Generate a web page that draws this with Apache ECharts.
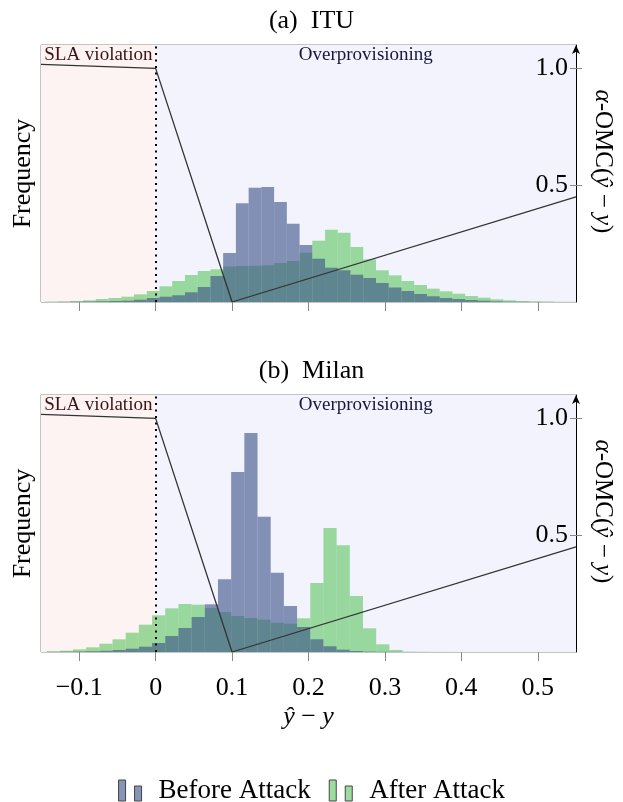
<!DOCTYPE html>
<html><head><meta charset="utf-8">
<script src="https://cdn.jsdelivr.net/npm/echarts@6/dist/echarts.min.js"></script>
<style>html,body{margin:0;padding:0;background:#fff}#c{width:623px;height:802px}</style>
</head><body><div id="c"></div>
<script>
// ---- data ----
const panelTitles = ['(a)\u2002ITU', '(b)\u2002Milan'];
const seriesNames = ['Before Attack', 'After Attack'];
const xTicks = [-0.1, 0, 0.1, 0.2, 0.3, 0.4, 0.5];
const xTickLabels = ['\u22120.1', '0', '0.1', '0.2', '0.3', '0.4', '0.5'];
const omcTicks = [0.5, 1.0];
const omcTickLabels = ['0.5', '1.0'];
const omcX = [-0.15, 0, 0.1, 0.55];
const omcY = [1.017, 1.0, 0.0, 0.45];
const regionEdges = [-0.15, 0, 0.55];
const regionLabels = ['SLA violation', 'Overprovisioning'];

const ituBinStart = -0.145, ituBinWidth = 1 / 60;
const ituBefore = [0.1,0.2,0.3,0.5,0.7,1,1.3,2.3,4,5.3,6.7,9.7,15,26,49,98.7,114.3,115,100,78.3,57,43.3,34.3,31.7,27.3,24,19,14.5,11,8,5.7,4,3,2,1.3,0.7,0.3,0.2,0.1,0.1,0,0];
const ituAfter  = [0.3,0.5,1,1.7,3,4,5.3,7.7,11,15.7,21,27,31,32.7,35.5,36,36.3,36.7,39,41,49.3,61.3,72.3,69.3,55,42.7,31.7,26.7,21,17,13.3,10.7,8.3,6,4.3,2.7,1.7,1,0.7,0.4,0.2,0.2];

const milanBinStart = -0.1427, milanBinWidth = 0.01725;
const milanBefore = [0.2,0.3,0.5,0.8,1.2,2,3.3,5.3,9,16,24,35,47.7,72.7,180,219,135.3,79.3,46,25,12.7,5.7,2.3,1,0.4,0.2,0.1,0,0,0,0,0,0,0,0,0,0,0,0,0,0];
const milanAfter  = [0.7,1.3,2.7,4.7,8.3,12.7,19.3,27.3,36.7,43.7,48,47.3,44,40,36,34,32.3,29.3,28.3,33.7,69,124,106.7,56,23.7,7.7,2,0.4,0.2,0.1,0.1,0,0,0,0,0,0,0,0,0,0];

// ---- chart ----
const FONT = 'Liberation Serif';
const BLUE = 'rgba(57,79,135,0.6)';
const GREEN = 'rgba(91,197,93,0.6)';
const FREQ_MAX = 257;
const chart = echarts.init(document.getElementById('c'), null, {renderer: 'canvas'});

function hist(name, start, width, heights, color, g) {
  const data = heights.map((h, i) => [start + i * width, start + (i + 1) * width, h]);
  return {
    type: 'custom', name, xAxisIndex: g, yAxisIndex: g * 3, data, z: name === seriesNames[0] ? 3 : 2,
    itemStyle: {color}, encode: {x: [0, 1], y: 2}, silent: true,
    renderItem: (params, api) => {
      const p0 = api.coord([api.value(0), 0]);
      const p1 = api.coord([api.value(1), api.value(2)]);
      const cs = params.coordSys;
      const shape = echarts.graphic.clipRectByRect(
        {x: p0[0], y: p1[1], width: p1[0] - p0[0], height: p0[1] - p1[1]},
        {x: cs.x, y: cs.y, width: cs.width, height: cs.height});
      return shape && {type: 'rect', shape, style: {fill: color}};
    }
  };
}

const mathRich = size => ({i: {fontFamily: FONT, fontSize: size, fontStyle: 'italic', color: '#000'}});
const grids = [{left: 41, right: 42, top: 45, height: 257}, {left: 41, right: 42, top: 395, height: 257}];
const xAxes = [], yAxes = [], series = [];
grids.forEach((g, gi) => {
  xAxes.push({
    type: 'value', gridIndex: gi, min: -0.15, max: 0.55, z: 6,
    axisLine: {show: false}, splitLine: {show: false},
    axisTick: {show: true, length: 9, lineStyle: {color: '#888'}, customValues: xTicks},
    axisLabel: {show: gi === 1, customValues: xTicks, margin: 23,
      formatter: v => xTickLabels[xTicks.findIndex(t => Math.abs(t - v) < 1e-9)] || '',
      fontFamily: FONT, fontSize: 26, color: '#000'},
    name: gi === 1 ? '{i|ŷ}\u2005\u2212\u2005{i|y}' : '', nameLocation: 'middle', nameGap: 52,
    nameTextStyle: {fontFamily: FONT, fontSize: 26, color: '#000', rich: mathRich(26)}
  });
  yAxes.push({
    type: 'value', gridIndex: gi, min: 0, max: FREQ_MAX, position: 'left',
    axisLine: {show: false}, axisTick: {show: false}, axisLabel: {show: false}, splitLine: {show: false},
    name: 'Frequency', nameLocation: 'middle', nameRotate: 90, nameGap: 5,
    nameTextStyle: {fontFamily: FONT, fontSize: 26, color: '#000'}
  });
  yAxes.push({
    type: 'value', gridIndex: gi, min: 0, max: 1.1, position: 'right', z: 6,
    axisLine: {show: true, lineStyle: {color: '#000', width: 1}, symbol: ['none', 'arrow'], symbolSize: [6, 9]},
    axisTick: {show: true, inside: true, length: 6, lineStyle: {color: '#888'}, customValues: omcTicks},
    axisLabel: {show: true, inside: true, margin: 8, customValues: omcTicks,
      formatter: v => omcTickLabels[omcTicks.findIndex(t => Math.abs(t - v) < 1e-9)] || '',
      fontFamily: FONT, fontSize: 26, color: '#000'},
    splitLine: {show: false},
    name: '{i|α}-OMC({i|ŷ}\u2005\u2212\u2005{i|y})', nameLocation: 'middle', nameRotate: -90, nameGap: 14,
    nameTextStyle: {fontFamily: FONT, fontSize: 25, color: '#000', padding: [0, 24, 0, 0], rich: mathRich(25)}
  });
  yAxes.push({
    type: 'value', gridIndex: gi, min: 0, max: 1.1, position: 'right', z: 6,
    axisLine: {show: false}, axisLabel: {show: false}, splitLine: {show: false},
    axisTick: {show: true, inside: false, length: 6, lineStyle: {color: '#888'}, customValues: omcTicks}
  });
  // background regions
  series.push({
    type: 'line', xAxisIndex: gi, yAxisIndex: gi * 3, data: [], z: 0, silent: true,
    markArea: {silent: true, data: [
      [{xAxis: regionEdges[0], itemStyle: {color: '#fdf3f3'},
        label: {show: true, position: 'insideTop', distance: 1, formatter: regionLabels[0], fontFamily: FONT, fontSize: 19, color: '#3c1212'}},
       {xAxis: regionEdges[1]}],
      [{xAxis: regionEdges[1], itemStyle: {color: '#f3f3fd'},
        label: {show: true, position: 'insideTop', distance: 1, formatter: regionLabels[1], fontFamily: FONT, fontSize: 19, color: '#16163e'}},
       {xAxis: regionEdges[2]}]
    ]}
  });
  const bins = gi === 0 ? [ituBinStart, ituBinWidth, ituBefore, ituAfter] : [milanBinStart, milanBinWidth, milanBefore, milanAfter];
  series.push(hist(seriesNames[1], bins[0], bins[1], bins[3], GREEN, gi));
  series.push(hist(seriesNames[0], bins[0], bins[1], bins[2], BLUE, gi));
  series.push({
    type: 'line', xAxisIndex: gi, yAxisIndex: gi * 3 + 1, z: 5, silent: true,
    data: omcX.map((x, i) => [x, omcY[i]]), symbol: 'none',
    lineStyle: {color: '#333', width: 1.3},
    markLine: {silent: true, symbol: ['none', 'none'], label: {show: false},
      lineStyle: {color: '#000', type: [2, 4.5], width: 2, cap: 'butt'},
      data: [{xAxis: regionEdges[1]}]}
  });
});

chart.setOption({
  animation: false,
  backgroundColor: '#fff',
  title: panelTitles.map((t, i) => ({text: t, left: 'center', top: i === 0 ? 3 : 353,
    textStyle: {fontFamily: FONT, fontSize: 26, fontWeight: 'normal', color: '#000'}})),
  grid: grids.map(g => Object.assign({show: true, borderColor: '#8a8a8a', borderWidth: 1, backgroundColor: 'transparent', containLabel: false}, g)),
  xAxis: xAxes, yAxis: yAxes, series,
  legend: {
    data: seriesNames, left: 'center', top: 772, orient: 'horizontal', itemGap: 18,
    itemWidth: 23, itemHeight: 21,
    icon: 'path://M0,0h7v21h-7z M16,6h7v15h-7z',
    itemStyle: {borderColor: '#444', borderWidth: 1},
    textStyle: {fontFamily: FONT, fontSize: 27, color: '#000', padding: [0, 0, 0, 12]}
  }
});
</script></body></html>
